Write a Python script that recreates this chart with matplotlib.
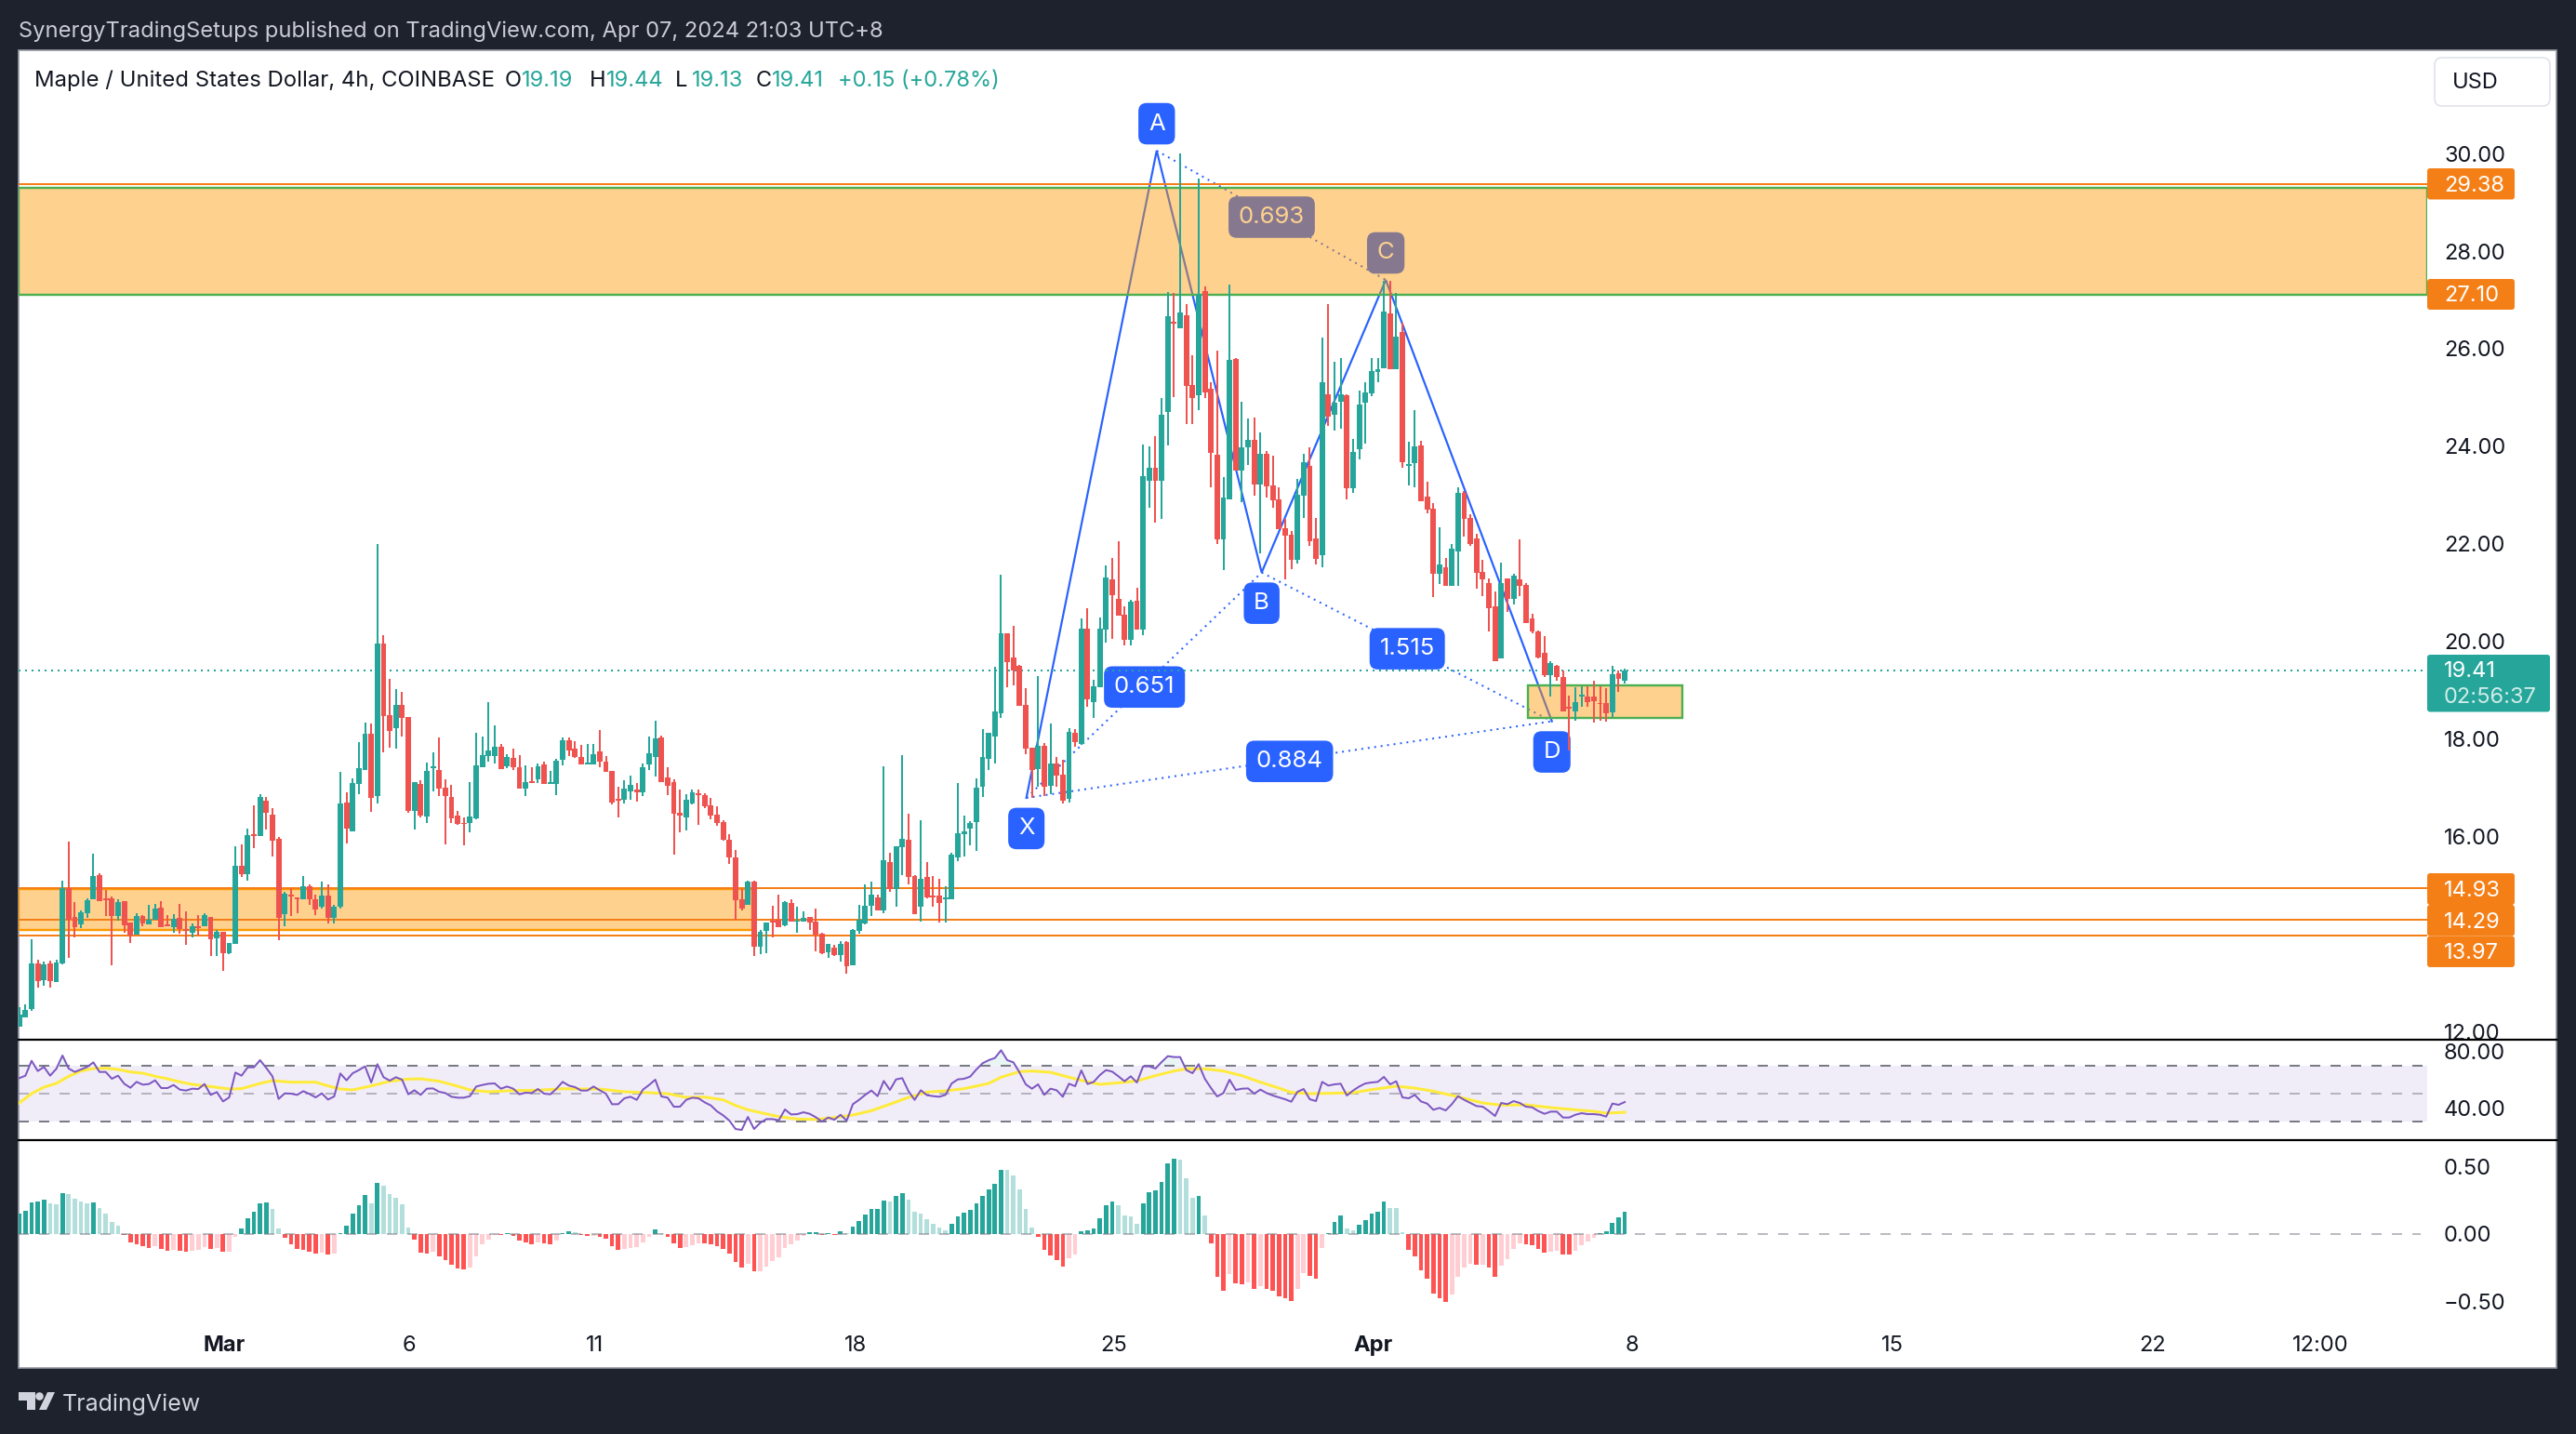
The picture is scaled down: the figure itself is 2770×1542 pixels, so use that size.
import numpy as np
import matplotlib
matplotlib.use('Agg')
import matplotlib.pyplot as plt
from matplotlib.patches import Rectangle, FancyBboxPatch, Polygon, Circle

plt.rcParams['font.family'] = ['Inter', 'DejaVu Sans']

# 4h candles
opens = [
    12.10, 12.29, 12.46, 13.39, 13.05, 13.39, 13.02, 13.39, 14.93, 14.34,
    14.20, 14.43, 14.71, 15.21, 14.72, 14.72, 14.37, 14.67, 14.23, 13.98,
    14.36, 14.20, 14.29, 14.53, 14.19, 14.13, 14.32, 14.10, 14.02, 14.16,
    14.15, 14.34, 13.91, 14.04, 13.60, 13.80, 15.40, 15.22, 16.04, 16.01,
    16.73, 16.44, 15.94, 14.40, 14.81, 14.74, 14.71, 14.97, 14.70, 14.56,
    14.78, 14.32, 14.56, 16.69, 16.10, 17.07, 17.36, 18.10, 16.83, 19.95,
    18.48, 18.21, 18.69, 18.45, 16.52, 17.08, 16.40, 17.40, 17.36, 16.99,
    16.80, 16.42, 16.27, 16.27, 16.37, 17.42, 17.65, 17.65, 17.84, 17.44,
    17.61, 17.42, 16.98, 17.13, 17.17, 17.47, 17.07, 17.07, 17.57, 17.97,
    17.80, 17.63, 17.47, 17.47, 17.74, 17.53, 17.34, 16.77, 16.75, 16.92,
    16.96, 16.90, 17.47, 17.63, 18.03, 17.21, 17.11, 16.48, 16.39, 16.67,
    16.88, 16.84, 16.64, 16.44, 16.29, 15.93, 15.57, 14.71, 14.60, 15.07,
    13.74, 14.06, 14.27, 14.29, 14.18, 14.63, 14.25, 14.26, 14.35, 14.25,
    14.00, 13.62, 13.72, 13.57, 13.83, 13.36, 14.06, 14.21, 14.58, 14.75,
    14.48, 15.47, 14.92, 15.78, 15.93, 15.19, 14.56, 15.17, 14.79, 14.79,
    14.71, 14.71, 15.57, 16.04, 16.16, 16.29, 17.02, 17.59, 18.05, 18.52,
    20.16, 19.66, 19.49, 18.69, 17.82, 17.38, 17.85, 17.03, 17.49, 17.26,
    16.77, 18.12, 17.89, 20.26, 18.75, 19.06, 20.24, 21.27, 20.87, 20.54,
    20.03, 20.83, 20.24, 23.29, 23.55, 23.30, 24.70, 26.56, 26.41, 26.68,
    25.25, 25.04, 27.18, 25.17, 23.82, 22.09, 22.91, 25.79, 23.51, 23.97,
    24.13, 23.21, 23.84, 23.19, 22.90, 22.31, 22.18, 21.67, 22.99, 23.59,
    22.10, 21.77, 25.06, 24.64, 24.92, 25.04, 23.13, 23.93, 24.89, 25.08,
    25.53, 25.59, 26.72, 25.57, 26.34, 23.60, 23.65, 24.01, 22.96, 22.71,
    21.38, 21.51, 21.14, 21.84, 23.04, 22.52, 22.11, 21.42, 21.20, 20.71,
    19.64, 21.28, 20.87, 21.27, 21.15, 20.47, 20.21, 19.76, 19.31, 19.49,
    19.27, 18.65, 18.57, 18.87, 18.86, 18.86, 18.74, 18.73, 18.54, 19.34,
    19.19,
]
closes = [
    12.34, 12.44, 13.39, 13.04, 13.38, 13.03, 13.41, 14.93, 14.29, 14.14,
    14.44, 14.69, 15.19, 14.67, 14.69, 14.37, 14.65, 14.18, 13.97, 14.36,
    14.22, 14.29, 14.51, 14.14, 14.16, 14.31, 14.09, 14.07, 14.16, 14.12,
    14.38, 13.89, 14.04, 13.60, 13.81, 15.40, 15.22, 16.02, 16.01, 16.81,
    16.48, 15.91, 14.32, 14.82, 14.77, 14.71, 14.97, 14.70, 14.50, 14.78,
    14.32, 14.56, 16.67, 16.16, 17.09, 17.40, 18.10, 16.78, 19.95, 18.46,
    18.16, 18.69, 18.42, 16.52, 17.11, 16.43, 17.34, 17.43, 16.98, 16.83,
    16.37, 16.26, 16.25, 16.40, 17.45, 17.66, 17.76, 17.84, 17.38, 17.63,
    17.42, 16.98, 17.11, 17.09, 17.44, 17.07, 17.11, 17.55, 17.97, 17.76,
    17.63, 17.47, 17.51, 17.68, 17.53, 17.32, 16.69, 16.73, 16.98, 17.05,
    16.90, 17.42, 17.70, 18.01, 17.11, 17.04, 16.46, 16.43, 16.75, 16.90,
    16.84, 16.62, 16.43, 16.27, 15.93, 15.57, 14.69, 14.52, 15.07, 13.74,
    14.04, 14.23, 14.23, 14.14, 14.65, 14.25, 14.28, 14.33, 14.23, 13.98,
    13.60, 13.79, 13.57, 13.79, 13.34, 14.08, 14.29, 14.58, 14.80, 14.48,
    15.51, 14.92, 15.80, 15.95, 15.17, 14.40, 15.13, 14.75, 14.75, 14.63,
    14.75, 15.62, 16.06, 16.10, 16.27, 17.00, 17.63, 18.12, 18.56, 20.16,
    19.57, 19.40, 18.67, 17.80, 17.36, 17.85, 17.01, 17.49, 17.24, 16.73,
    18.14, 17.93, 20.26, 18.81, 19.07, 20.26, 21.31, 20.94, 20.52, 20.03,
    20.81, 20.24, 23.38, 23.55, 23.30, 24.64, 26.66, 26.52, 26.74, 25.24,
    24.98, 27.10, 25.10, 23.86, 22.09, 22.94, 25.77, 23.51, 23.97, 24.13,
    23.21, 23.84, 23.18, 22.89, 22.30, 22.17, 21.67, 23.00, 23.67, 22.05,
    21.69, 25.31, 24.60, 24.90, 25.07, 23.13, 23.89, 24.85, 25.10, 25.55,
    25.57, 26.76, 25.57, 26.24, 23.68, 23.63, 23.99, 22.88, 22.70, 21.39,
    21.57, 21.14, 21.90, 23.04, 22.51, 22.00, 21.41, 21.27, 20.68, 19.60,
    21.20, 20.87, 21.35, 21.14, 20.37, 20.20, 19.66, 19.31, 19.55, 19.27,
    18.57, 18.61, 18.76, 18.90, 18.75, 18.77, 18.72, 18.52, 19.32, 19.23,
    19.41,
]
highs = [
    12.49, 12.55, 13.89, 13.47, 13.43, 13.45, 13.47, 15.09, 15.89, 14.65,
    14.48, 14.72, 15.64, 15.24, 14.90, 14.76, 14.71, 14.67, 14.23, 14.42,
    14.38, 14.59, 14.62, 14.67, 14.38, 14.40, 14.62, 14.46, 14.22, 14.38,
    14.42, 14.34, 14.08, 14.04, 13.81, 15.80, 15.83, 16.16, 16.64, 16.86,
    16.81, 16.58, 15.99, 14.86, 14.93, 14.74, 15.19, 15.01, 14.81, 15.07,
    15.01, 14.59, 17.32, 16.90, 17.18, 17.93, 18.33, 18.31, 21.99, 20.12,
    19.23, 19.02, 18.96, 18.45, 17.11, 17.15, 17.51, 17.72, 18.02, 17.17,
    17.05, 16.53, 16.39, 17.11, 18.12, 18.05, 18.75, 18.27, 17.89, 17.68,
    17.80, 17.66, 17.45, 17.42, 17.49, 17.53, 17.34, 17.59, 18.03, 18.03,
    17.95, 17.87, 17.89, 17.89, 18.18, 17.65, 17.34, 17.02, 17.15, 17.25,
    17.09, 17.49, 18.05, 18.37, 18.07, 17.42, 17.17, 16.96, 16.86, 16.96,
    16.96, 16.88, 16.79, 16.62, 16.33, 16.04, 15.72, 14.92, 15.09, 15.09,
    14.08, 14.23, 14.58, 14.80, 14.67, 14.71, 14.56, 14.46, 14.35, 14.52,
    14.02, 13.79, 13.78, 13.85, 13.85, 14.10, 14.60, 15.01, 15.07, 14.80,
    17.44, 15.66, 15.80, 17.66, 16.46, 15.21, 16.33, 15.47, 15.19, 15.13,
    14.98, 15.66, 17.09, 16.43, 16.31, 17.19, 18.20, 18.12, 19.48, 21.36,
    20.16, 20.31, 19.51, 19.04, 17.82, 19.29, 17.91, 18.31, 17.62, 17.57,
    18.22, 18.20, 20.47, 20.68, 19.21, 20.49, 21.55, 21.71, 22.05, 20.71,
    20.85, 21.09, 24.03, 23.99, 24.20, 24.98, 27.16, 27.14, 30.00, 26.92,
    25.86, 29.49, 27.27, 25.31, 25.97, 23.37, 27.32, 25.80, 24.92, 24.56,
    24.58, 24.28, 23.91, 23.80, 23.15, 22.51, 22.27, 23.33, 23.84, 23.97,
    22.52, 26.22, 26.91, 25.74, 25.80, 25.06, 24.14, 25.14, 25.31, 25.80,
    25.80, 27.39, 27.39, 27.14, 26.53, 24.09, 24.74, 24.11, 23.27, 22.84,
    22.34, 21.71, 22.00, 23.15, 23.09, 22.60, 22.20, 21.67, 21.28, 21.03,
    21.61, 21.28, 21.39, 22.09, 21.19, 20.56, 20.22, 20.11, 19.59, 19.51,
    19.40, 18.89, 19.06, 19.08, 19.08, 19.19, 19.08, 19.04, 19.49, 19.41,
    19.44,
]
lows = [
    12.10, 12.29, 12.43, 12.89, 12.94, 12.90, 13.02, 13.37, 13.51, 13.93,
    14.11, 14.33, 14.70, 14.67, 14.37, 13.36, 14.27, 14.02, 13.82, 13.98,
    14.16, 14.20, 14.29, 14.14, 14.16, 14.02, 14.01, 13.78, 13.93, 13.97,
    14.15, 13.54, 13.54, 13.24, 13.58, 13.80, 15.16, 15.10, 15.75, 16.01,
    16.14, 15.59, 13.87, 14.16, 14.37, 14.42, 14.71, 14.59, 14.38, 14.52,
    14.22, 14.22, 14.52, 15.85, 16.10, 16.86, 17.36, 16.50, 16.67, 17.72,
    17.82, 17.80, 18.04, 16.48, 16.14, 16.39, 16.27, 16.92, 16.83, 15.83,
    16.27, 16.24, 15.81, 16.08, 16.35, 17.42, 17.53, 17.49, 17.38, 17.40,
    17.36, 16.98, 16.83, 17.09, 17.09, 17.07, 17.07, 16.84, 17.45, 17.65,
    17.61, 17.47, 17.47, 17.47, 17.42, 17.32, 16.65, 16.39, 16.67, 16.75,
    16.71, 16.83, 17.36, 17.23, 17.11, 16.84, 15.62, 16.08, 16.12, 16.65,
    16.23, 16.58, 16.35, 16.22, 15.91, 15.43, 14.29, 14.48, 14.60, 13.55,
    13.58, 13.60, 13.93, 14.14, 14.16, 14.25, 14.02, 14.26, 14.08, 13.64,
    13.58, 13.51, 13.55, 13.43, 13.18, 13.36, 14.00, 14.19, 14.37, 14.48,
    14.42, 14.86, 14.56, 15.21, 15.01, 14.40, 14.25, 14.73, 14.56, 14.23,
    14.23, 14.71, 15.49, 15.59, 15.82, 15.70, 16.81, 17.36, 17.49, 18.43,
    19.06, 19.09, 18.67, 17.68, 16.78, 17.01, 16.83, 16.86, 17.01, 16.67,
    16.69, 17.83, 17.87, 18.66, 18.43, 19.06, 19.97, 20.05, 20.52, 19.91,
    19.91, 20.24, 20.12, 22.73, 22.44, 22.51, 24.01, 25.00, 26.41, 24.45,
    24.45, 24.74, 24.98, 23.16, 21.99, 21.46, 22.91, 23.51, 22.86, 23.61,
    22.99, 21.81, 22.94, 22.73, 22.30, 21.27, 21.47, 21.59, 22.52, 21.95,
    21.57, 21.52, 24.42, 24.32, 24.36, 22.90, 23.05, 23.73, 24.05, 25.03,
    25.31, 25.59, 25.57, 25.57, 23.56, 23.19, 23.15, 22.88, 22.62, 20.90,
    21.17, 21.14, 21.14, 21.14, 22.14, 21.95, 21.08, 20.93, 20.21, 19.59,
    19.64, 20.60, 20.75, 20.93, 20.37, 20.17, 19.64, 19.26, 18.87, 19.19,
    18.57, 17.76, 18.38, 18.66, 18.66, 18.33, 18.37, 18.35, 18.44, 18.97,
    19.13,
]

rsi = [
    60.97, 62.73, 73.29, 66.03, 68.89, 62.73, 67.57, 77.03, 67.79, 65.37,
    67.13, 68.89, 72.19, 65.37, 65.37, 60.53, 62.73, 57.01, 54.15, 58.33,
    56.35, 56.79, 59.43, 53.93, 53.93, 56.13, 52.83, 52.17, 53.49, 53.27,
    56.79, 49.09, 51.07, 44.47, 47.33, 64.93, 62.73, 68.67, 68.67, 73.73,
    68.23, 62.29, 46.23, 50.19, 49.97, 49.09, 51.73, 49.75, 47.33, 50.19,
    45.79, 47.99, 64.27, 59.43, 64.49, 66.69, 69.33, 57.89, 70.87, 61.63,
    59.21, 61.63, 59.87, 49.53, 52.39, 49.09, 53.49, 53.71, 51.29, 50.41,
    47.77, 47.11, 47.11, 48.21, 55.03, 56.13, 57.01, 57.23, 53.49, 55.03,
    53.49, 49.53, 50.63, 50.41, 53.27, 49.97, 49.53, 53.49, 58.33, 55.69,
    54.59, 52.17, 52.17, 55.03, 52.39, 49.97, 42.49, 42.49, 46.67, 47.77,
    45.57, 52.83, 56.13, 59.87, 47.99, 47.11, 40.73, 40.73, 45.57, 47.11,
    46.67, 43.81, 41.61, 37.43, 34.57, 30.83, 24.89, 24.23, 33.47, 24.89,
    29.29, 31.93, 31.93, 31.05, 38.75, 35.23, 35.45, 36.77, 35.67, 33.25,
    30.17, 33.03, 31.49, 34.99, 30.83, 42.49, 45.57, 49.09, 52.17, 48.21,
    58.99, 52.61, 60.09, 60.97, 51.73, 45.57, 52.39, 48.87, 48.21, 47.77,
    49.09, 57.23, 60.09, 60.53, 62.07, 67.13, 71.53, 73.73, 75.27, 80.77,
    73.73, 72.19, 64.93, 56.57, 53.49, 56.57, 49.09, 53.49, 52.39, 47.77,
    57.01, 55.25, 66.47, 56.79, 58.33, 63.17, 66.69, 65.59, 62.29, 58.77,
    62.29, 57.89, 69.33, 69.33, 67.79, 72.41, 76.59, 75.93, 75.93, 66.69,
    64.49, 70.87, 60.53, 53.93, 47.99, 50.41, 59.87, 52.61, 53.49, 53.71,
    49.97, 52.83, 50.41, 48.65, 47.33, 45.99, 44.25, 51.29, 53.27, 45.99,
    44.69, 58.33, 55.69, 56.57, 57.01, 48.65, 52.17, 55.03, 57.23, 57.89,
    58.33, 61.85, 56.57, 58.77, 47.33, 46.67, 49.09, 44.47, 42.93, 38.53,
    39.85, 38.09, 42.49, 48.21, 45.57, 43.37, 41.17, 40.73, 37.65, 34.13,
    43.37, 42.49, 44.69, 43.37, 40.73, 40.29, 37.65, 35.67, 37.21, 37.21,
    33.03, 33.03, 34.99, 36.11, 35.45, 35.45, 34.99, 33.69, 42.93, 42.05,
    44.03,
]
rsi_ma_bars = [
    0, 2, 4, 6, 8, 10, 12, 14, 16, 18, 20, 22, 24, 26, 28, 31, 34, 36, 39, 41,
    44, 48, 50, 52, 54, 57, 60, 63, 65, 68, 71, 73, 76, 80, 84, 88, 91, 94, 98,
    102, 105, 108, 111, 114, 116, 118, 120, 123, 126, 129, 132, 135, 138, 141,
    144, 147, 150, 153, 157, 159, 162, 164, 167, 170, 173, 175, 178, 181, 184,
    187, 189, 192, 195, 198, 201, 204, 206, 209, 212, 216, 219, 223, 226, 229,
    233, 237, 240, 244, 248, 252, 255, 257, 260,
]
rsi_ma = [
    43.37, 49.97, 54.59, 57.23, 62.29, 66.03, 67.79, 68.01, 67.13, 65.37, 64.49,
    62.29, 60.53, 58.33, 56.57, 55.03, 53.27, 53.49, 57.23, 59.21, 58.11, 58.11,
    55.47, 53.27, 52.61, 55.47, 58.77, 60.31, 60.53, 58.77, 55.25, 52.61, 51.29,
    52.17, 52.39, 53.49, 53.27, 53.27, 51.29, 50.63, 49.97, 47.33, 47.55, 45.57,
    41.61, 38.53, 36.55, 33.69, 31.93, 31.71, 33.03, 34.79, 37.87, 42.49, 47.33,
    51.07, 51.95, 53.49, 57.23, 61.63, 65.59, 66.03, 65.15, 61.63, 58.33, 56.57,
    57.67, 58.99, 62.73, 66.03, 67.57, 67.57, 66.03, 62.73, 58.11, 53.93, 50.85,
    49.97, 50.19, 50.63, 52.83, 55.25, 53.93, 51.73, 47.77, 43.37, 41.83, 42.05,
    40.07, 38.53, 37.43, 36.11, 36.77,
]
macd_hist = [
    .153, .174, .236, .243, .257, .229, .222, .306, .299, .264,
    .245, .231, .236, .194, .153, .090, .063, -.007, -.063, -.076,
    -.090, -.104, -.090, -.111, -.125, -.118, -.125, -.132, -.125, -.118,
    -.097, -.111, -.104, -.132, -.131, -.021, .042, .118, .167, .229,
    .236, .188, .042, -.028, -.076, -.111, -.118, -.132, -.146, -.139,
    -.153, -.146, .007, .063, .153, .215, .292, .229, .382, .361,
    .299, .271, .222, .049, -.042, -.139, -.146, -.132, -.167, -.194,
    -.229, -.257, -.264, -.250, -.167, -.076, -.042, -.007, -.010, .007,
    -.014, -.049, -.063, -.076, -.063, -.069, -.076, -.049, .007, .021,
    .014, -.007, -.014, -.012, -.021, -.035, -.090, -.118, -.111, -.104,
    -.097, -.063, -.021, .035, .007, -.021, -.069, -.104, -.097, -.083,
    -.069, -.071, -.076, -.090, -.111, -.146, -.208, -.250, -.222, -.278,
    -.275, -.243, -.201, -.174, -.104, -.076, -.049, -.014, .014, .016,
    -.007, .007, -.007, .021, .007, .056, .097, .146, .188, .189,
    .250, .243, .285, .306, .257, .167, .153, .111, .076, .049,
    .028, .076, .132, .160, .181, .229, .285, .333, .375, .479,
    .477, .438, .333, .188, .049, -.021, -.118, -.160, -.194, -.243,
    -.181, -.153, .021, .028, .042, .118, .215, .243, .215, .139,
    .132, .076, .229, .313, .326, .389, .528, .563, .556, .417,
    .271, .285, .139, -.069, -.319, -.424, -.299, -.368, -.375, -.361,
    -.410, -.389, -.410, -.424, -.465, -.479, -.500, -.410, -.292, -.313,
    -.333, -.104, .007, .090, .139, .042, .028, .069, .104, .153,
    .167, .243, .194, .193, .014, -.118, -.167, -.271, -.333, -.444,
    -.479, -.507, -.451, -.319, -.250, -.222, -.229, -.228, -.250, -.319,
    -.236, -.188, -.111, -.069, -.076, -.083, -.111, -.139, -.132, -.125,
    -.153, -.155, -.125, -.083, -.056, -.028, .007, .021, .083, .125,
    .167,
]

# XABCD pattern points (bar number, price)
pattern_names = ['X', 'A', 'B', 'C', 'D']
pattern_bars = [163.1, 184.2, 201.2, 221.3, 248.2]
pattern_prices = [16.79, 30.06, 21.41, 27.41, 18.36]
pattern_ratios = [('X', 'B', '0.651'), ('A', 'C', '0.693'), ('B', 'D', '1.515'), ('X', 'D', '0.884')]

price_ticks = [30, 28, 26, 24, 22, 20, 18, 16, 12]
rsi_ticks = [80, 40]
macd_ticks = [0.5, 0, -0.5]
macd_tick_labels = ['0.50', '0.00', '\u22120.50']
time_ticks = [33.2, 63.2, 93.2, 135.4, 177.2, 219.2, 261.2, 303.4, 345.4, 372.6]
time_labels = ['Mar', '6', '11', '18', '25', 'Apr', '8', '15', '22', '12:00']

level_lines = [29.38, 14.93, 14.29, 13.97]

# colours
BG = '#1e222d'
UP = '#26a69a'
DOWN = '#ef5350'
BLUE = '#2962ff'
TAG = '#f57f17'
INK = '#131722'
FS = 17

W, H = 2770, 1542
PX = 0.72  # points per pixel at dpi 100
X0, X1 = 20, 2610
BAR_PX, BAR0_PX = 6.64, 20.7


def px_rect(left, top, right, bottom):
    return [left / W, 1 - bottom / H, (right - left) / W, (bottom - top) / H]


def make_axes(top, bottom, y_hi, y_lo):
    ax = fig.add_axes(px_rect(X0, top, X1, bottom), facecolor='none', zorder=2)
    ax.set_xlim((X0 - BAR0_PX) / BAR_PX, (X1 - BAR0_PX) / BAR_PX)
    ax.set_ylim(y_lo, y_hi)
    for s in ax.spines.values():
        s.set_visible(False)
    ax.tick_params(axis='y', right=True, labelright=True, left=False, labelleft=False,
                   length=0, pad=18 * PX, labelsize=FS, labelcolor=INK)
    ax.tick_params(axis='x', length=0)
    ax.set_xticks([])
    return ax


fig = plt.figure(figsize=(W / 100, H / 100), dpi=100, facecolor=BG)

# white chart panel behind everything
under = fig.add_axes([0, 0, 1, 1], zorder=0)
under.set_xlim(0, W)
under.set_ylim(H, 0)
under.axis('off')
under.add_patch(Rectangle((20, 54), 2729, 1417, fc='white', ec='#9598a1', lw=1.2))

# main pane
bars = np.arange(len(closes))
o, c, hi, lo = map(np.array, (opens, closes, highs, lows))
ax = make_axes(54, 1118, 32.12, 11.83)
ax.set_yticks(price_ticks, labels=['%.2f' % p for p in price_ticks])

colors = np.where(c >= o, UP, DOWN)
ax.vlines(bars, lo, hi, colors=colors, lw=2 * PX, zorder=4)
ax.bar(bars, np.abs(c - o), bottom=np.minimum(o, c), width=0.88, color=colors, lw=0, zorder=4.1)

ax.axhline(closes[-1], color=UP, lw=2 * PX, ls=(0, (1, 2.5)), zorder=3.6)

# pattern goes under the orange zones
pts = dict(zip(pattern_names, zip(pattern_bars, pattern_prices)))
ax.plot(pattern_bars, pattern_prices, color=BLUE, lw=2.2 * PX, zorder=2, solid_joinstyle='miter')
chip = dict(boxstyle='round,pad=0.42,rounding_size=0.35', fc=BLUE, ec='none')
for a, b, label in pattern_ratios:
    xs, ys = zip(pts[a], pts[b])
    ax.plot(xs, ys, color=BLUE, lw=2 * PX, ls=(0, (1, 2.5)), zorder=2)
    ax.annotate(label, (np.mean(xs), np.mean(ys)), xytext=(0.5, -2), textcoords='offset pixels', color='white',
                fontsize=18.5, ha='center', va='center', bbox=chip, zorder=2.5)
for name, x, y in zip(pattern_names, pattern_bars, pattern_prices):
    dy = 29 if name in 'AC' else -33
    ax.annotate(name, (x, y), xytext=(0, dy), textcoords='offset pixels', color='white', fontsize=18.5,
                ha='center', va='center', bbox=chip, zorder=2.5)

# zones
ZONE = '#ff9800'
ax.add_patch(Rectangle((ax.get_xlim()[0], 27.10), ax.get_xlim()[1] - ax.get_xlim()[0], 2.20,
                       fc=(1, 0.596, 0, 0.44), ec='#4caf50', lw=2.4 * PX, zorder=3))
ax.add_patch(Rectangle((ax.get_xlim()[0], 14.08), 118.8, 0.83,
                       fc=(1, 0.596, 0, 0.44), ec=ZONE, lw=2.4 * PX, zorder=3))
ax.add_patch(Rectangle((244.3, 18.42), 25.0, 0.68,
                       fc=(1, 0.596, 0, 0.44), ec='#4caf50', lw=2.4 * PX, zorder=3))
for lvl in level_lines:
    ax.axhline(lvl, color=TAG, lw=2 * PX, zorder=3.5)

# RSI pane
ax_rsi = make_axes(1118, 1226, 88.25, 17.0)
ax_rsi.set_yticks(rsi_ticks, labels=['%.2f' % v for v in rsi_ticks])
ax_rsi.axhspan(30, 70, color='#7e57c2', alpha=0.1, lw=0)
dash = (0, (5.5, 5.5))
ax_rsi.axhline(70, color='#787b86', lw=2 * PX, ls=dash)
ax_rsi.axhline(30, color='#787b86', lw=2 * PX, ls=dash)
ax_rsi.axhline(50, color='#787b86', lw=2 * PX, ls=dash, alpha=0.5)
r = np.array(rsi)
ax_rsi.fill_between(bars, 70, r, where=r > 70, color='#26a69a', alpha=0.1, lw=0, interpolate=True)
ax_rsi.plot(rsi_ma_bars, rsi_ma, color='#ffeb3b', lw=3 * PX, zorder=3)
ax_rsi.plot(bars, rsi, color='#7e57c2', lw=2 * PX, zorder=4)

# MACD pane
ax_macd = make_axes(1226, 1430, 0.701, -0.715)
ax_macd.set_yticks(macd_ticks, labels=macd_tick_labels)
m = np.array(macd_hist)
prev = np.concatenate(([m[0] - 0.01], m[:-1]))
hist_colors = np.where(m >= 0, np.where(m > prev, UP, '#b2dfdb'), np.where(m < prev, '#ff5252', '#ffcdd2'))
ax_macd.bar(bars, m, width=0.7, color=hist_colors, lw=0, zorder=2)
ax_macd.plot([ax_macd.get_xlim()[0], 388.9], [0, 0], color='#787b86', lw=2 * PX, ls=dash, alpha=0.5, zorder=3)
ax_macd.set_xticks(time_ticks, labels=time_labels)
ax_macd.tick_params(axis='x', pad=6 * PX, labelsize=FS, labelcolor=INK)
for t in ax_macd.get_xticklabels():
    if t.get_text() in ('Mar', 'Apr'):
        t.set_fontweight('bold')

# everything around the panes
over = fig.add_axes([0, 0, 1, 1], zorder=5, facecolor='none')
over.set_xlim(0, W)
over.set_ylim(H, 0)
over.axis('off')
over.plot([20, 2749], [1118, 1118], color='black', lw=2.2 * PX)
over.plot([20, 2749], [1226, 1226], color='black', lw=2.2 * PX)


def tag(top, bottom, right, color, label, text_y=None):
    over.add_patch(FancyBboxPatch((2610, top), right - 2610, bottom - top, boxstyle='round,pad=0,rounding_size=3',
                                  fc=color, ec='none'))
    if label:
        over.text(2628, (text_y if text_y else (top + bottom) / 2) + 2, label, color='white', fontsize=FS,
                  va='center')


tag(181, 214.5, 2704, TAG, '29.38')
tag(300, 333, 2704, TAG, '27.10')
tag(939, 973, 2704, TAG, '14.93')
tag(973, 1006.5, 2704, TAG, '14.29')
tag(1006.5, 1040, 2704, TAG, '13.97')
tag(704, 765.5, 2742, UP, '19.41', 720)
over.text(2628, 750, '02:56:37', color='#d0ece9', fontsize=FS, va='center')

over.add_patch(FancyBboxPatch((2618, 62), 124, 52, boxstyle='round,pad=0,rounding_size=8', fc='white',
                              ec='#e0e3eb', lw=1.2))
over.text(2637, 89, 'USD', color=INK, fontsize=FS, va='center')

over.text(20, 34, 'SynergyTradingSetups published on TradingView.com, Apr 07, 2024 21:03 UTC+8',
          color='#c9cbd6', fontsize=17.1, va='center')

legend_parts = [
    (36.6, 'Maple / United States Dollar, 4h, COINBASE', 17.2, INK), (543, 'O', FS, INK), (561, '19.19', FS, UP),
    (634, 'H', FS, INK), (652, '19.44', FS, UP), (726, 'L', FS, INK), (744, '19.13', FS, UP),
    (813, 'C', FS, INK), (830, '19.41', FS, UP), (901, '+0.15 (+0.78%)', FS, UP),
]
for x, s, size, col in legend_parts:
    over.text(x, 87, s, color=col, fontsize=size, va='center')

# TradingView logo
LOGO = '#d1d4dc'
over.add_patch(Polygon([(20, 1497), (38, 1497), (38, 1516), (29, 1516), (29, 1506), (20, 1506)], fc=LOGO, ec='none'))
over.add_patch(Circle((42.5, 1501.5), 4.3, fc=LOGO, ec='none'))
over.add_patch(Polygon([(51, 1497), (59, 1497), (50, 1516), (42, 1516)], fc=LOGO, ec='none'))
over.text(67, 1510, 'TradingView', color=LOGO, fontsize=18, va='center')

fig.savefig('out.png', dpi=100, facecolor=BG)
